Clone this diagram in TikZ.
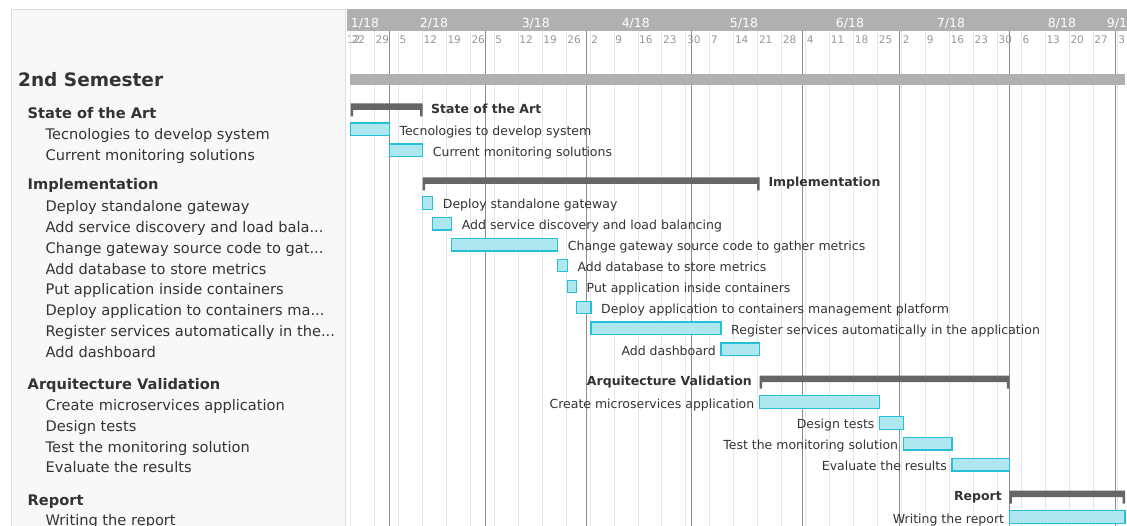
\documentclass[tikz,border=0pt]{standalone}
\usepackage{fontspec}
\setmainfont{DejaVu Sans}
\usepackage{tikz}
\usetikzlibrary{positioning}
\definecolor{panelbg}{RGB}{248,248,248}
\definecolor{panelln}{RGB}{221,221,221}
\definecolor{headgray}{RGB}{176,176,176}
\definecolor{weektxt}{RGB}{150,150,150}
\definecolor{weekgr}{RGB}{230,230,230}
\definecolor{monthgr}{RGB}{140,140,140}
\definecolor{sumgray}{RGB}{102,102,102}
\definecolor{taskfill}{RGB}{174,231,240}
\definecolor{taskdraw}{RGB}{38,190,216}
\definecolor{txt}{RGB}{51,51,51}
\tikzset{%
	panel/.style    = {fill=panelbg, draw=panelln, line width=1pt},
	semtitle/.style = {anchor=base west, inner sep=0pt, text=txt, font=\fontsize{18.5}{20}\selectfont\bfseries},
	grptitle/.style = {anchor=base west, inner sep=0pt, text=txt, font=\fontsize{14.6}{16}\selectfont\bfseries},
	tsktitle/.style = {anchor=base west, inner sep=0pt, text=txt, font=\fontsize{14.6}{16}\selectfont},
	monthlbl/.style = {anchor=base, inner sep=0pt, text=white, font=\fontsize{12.5}{13}\selectfont},
	weeklbl/.style  = {anchor=base west, inner sep=0pt, text=weektxt, font=\fontsize{10.5}{11}\selectfont},
	weekln/.style   = {draw=weekgr, line width=1pt},
	monthln/.style  = {draw=monthgr, line width=1pt},
	taskbar/.style  = {fill=taskfill, draw=taskdraw, line width=1.2pt},
	sumbar/.style   = {fill=sumgray},
	barlbl/.style   = {inner sep=0pt, text=txt, font=\fontsize{12.5}{14}\selectfont},
	sumlbl/.style   = {inner sep=0pt, text=txt, font=\fontsize{12.5}{14}\selectfont\bfseries},
}
\newcommand{\trc}{...}

\begin{document}
\begin{tikzpicture}[x=1pt,y=-1pt]
		\useasboundingbox (0,0) rectangle (1127,526);
		\clip (0,0) rectangle (1127,526);
		
		% left panel
		\draw[panel] (11,9.5) rectangle (345.7,526);
		\node[semtitle] (sem) at (18,86.7) {2nd Semester};
		\foreach \y/\t [count=\i] in {118.3/State of the Art,190/Implementation,390/Arquitecture Validation,505/Report}
			\node[grptitle] (grp\i) at (27.5,\y) {\t};
		\foreach \y/\t [count=\i] in {139.5/Tecnologies to develop system,160.4/Current monitoring solutions,
			211.5/Deploy standalone gateway,232.5/Add service discovery and load bala\trc,253.5/Change gateway source code to gat\trc,
			274.3/Add database to store metrics,295/Put application inside containers,316/Deploy application to containers ma\trc,
			336.8/Register services automatically in the\trc,357.5/Add dashboard,
			410.8/Create microservices application,431.5/Design tests,452/Test the monitoring solution,472.6/Evaluate the results,
			525/Writing the report}
			\node[tsktitle] (tsk\i) at (45.5,\y) {\t};
		
		% header with months and weeks
		\fill[headgray] (347,9.5) rectangle (1127,31.5);
		\foreach \x/\m [count=\i] in {365/1,434/2,535.8/3,635.8/4,744/5,850/6,951/7,1062/8,1121/9}
			\node[monthlbl] (mon\i) at (\x,27.5) {\m/18};
		
		\node[weeklbl] (wk00) at (347,44) {12};
		\foreach \d [count=\k from 0] in {22,29,5,12,19,26,5,12,19,26,2,9,16,23,30,7,14,21,28,4,11,18,25,2,9,16,23,30,6,13,20,27,3}{
			\draw[weekln] ({350.5+23.96*\k},31.5) -- ({350.5+23.96*\k},526);
			\node[weeklbl] (wk\k) at ({351.5+23.96*\k},44) {\d};
		}
		\foreach \x in {389.3,485,586.7,691.7,802.7,899,1009.3,1115}
			\draw[monthln] (\x,31.5) -- (\x,526);
		
		% section bar
		\fill[headgray] (350,74) rectangle (1125,85);
		
		% group bars
		\foreach \s/\e/\y in {350.5/422.7/103.3,422.7/759.5/177.3,759.5/1009.3/375.7,1009.3/1125/490.7}
			\fill[sumbar] (\s,\y) rectangle (\e,\y+6.5) (\s,\y+6.5) rectangle (\s+2.5,\y+13) (\e-2.5,\y+6.5) rectangle (\e,\y+13);
		\node[sumlbl,anchor=base west] (sg1) at (431,113.3) {State of the Art};
		\node[sumlbl,anchor=base west] (sg2) at (768.3,187) {Implementation};
		\node[sumlbl,anchor=base east] (sg3) at (752,385.7) {Arquitecture Validation};
		\node[sumlbl,anchor=base east] (sg4) at (1002,500.7) {Report};
		
		% tasks, label right of bar
		\foreach \s/\e/\y/\t [count=\i] in {350.5/389.3/123/Tecnologies to develop system,389.3/422.7/144/Current monitoring solutions,
			422.7/432.7/196.7/Deploy standalone gateway,432.7/451.7/217.6/Add service discovery and load balancing,
			451.7/557.7/238.5/Change gateway source code to gather metrics,557.7/567.3/259.4/Add database to store metrics,
			567.3/576.5/280.3/Put application inside containers,576.5/591/301.2/Deploy application to containers management platform,
			591/721/322.1/Register services automatically in the application}{
			\draw[taskbar] (\s,\y) rectangle (\e,\y+12.5);
			\node[barlbl,anchor=base west] (rt\i) at (\e+10,\y+12.3) {\t};
		}
		
		% tasks, label left of bar
		\foreach \s/\e/\y/\t [count=\i] in {721/759.5/343/Add dashboard,759.5/879.7/395.7/Create microservices application,
			879.7/903.3/416.6/Design tests,903.3/952/437.5/Test the monitoring solution,952/1009.3/458.4/Evaluate the results,
			1009.3/1125/510.7/Writing the report}{
			\draw[taskbar] (\s,\y) rectangle (\e,\y+12.5);
			\node[barlbl,anchor=base east] (lt\i) at (\s-5,\y+12.3) {\t};
		}
\end{tikzpicture}
\end{document}
